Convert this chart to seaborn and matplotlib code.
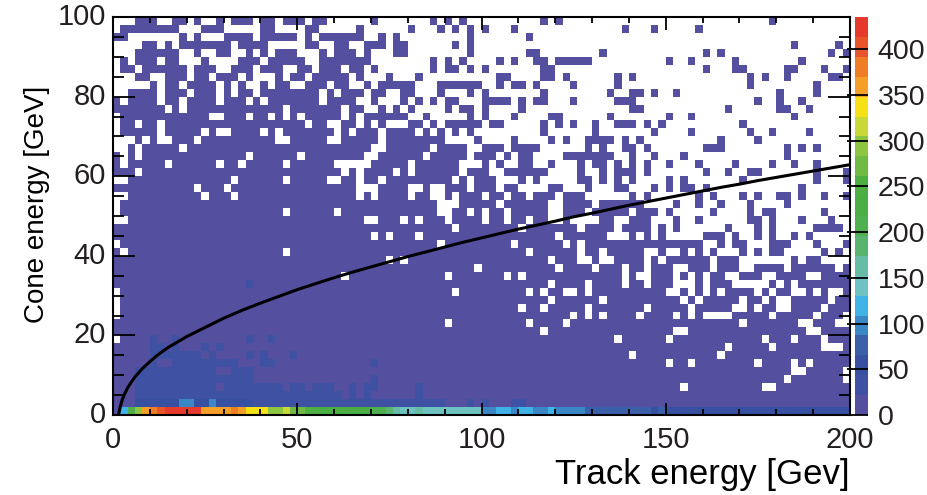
import numpy as np
import matplotlib
matplotlib.use("Agg")
import matplotlib.pyplot as plt
from matplotlib.colors import ListedColormap
from matplotlib.ticker import FixedLocator
import seaborn as sns

# histogram is 100 x 50 bins, rows go from the top (100 GeV) downwards
n_x = 100
n_y = 50
x_max = 200
y_max = 100

# rows 0-20
empty_top_left = [
    "0-2 6-7 10 12-13 15 19 22 26 29-32",
    "0 9-11 15-19 22-25 28-32",
    "2-8 10 12-14 19 25 27",
    "0-3 6 8 16 21-25 28-29 32",
    "0-2 9-10 12-13 16-17 19 21 25-27 29",
    "0 2 6 9-11 13-16 20 26-27",
    "0 3 10 14-15 19 23-24 27 31",
    "0-2 5-6 10 13 17 19-21 23 26 32",
    "0-4 6 9 14 16 18-19 21 24-25 29 32",
    "0-1 6 10 14 16 19 28 30",
    "1 6 9 14 18 20 28",
    "7 9 23 31",
    "0 13-14 18 21 23 25 31",
    "0 3 6 26 29-30",
    "0 6 12 14-15 20 22 30 32",
    "0-2 4 6-7 11 22-23 29-30",
    "0-1 3 9",
    "1 3 18 25",
    "1 7 14 17 23 30-32",
    "3 31",
    "0-1 16 23 29-30",
]
filled_top_mid = [
    "35 43 45 47 58 60",
    "33 40 44 46 48 50 54",
    "33 36 38 48 56",
    "34-36 38-39 46 48",
    "34 38-39 48 56-57 66",
    "33-34 43 45 47 52 54 57-58 60-64",
    "33 35 43 45-46 48 50 58-59",
    "33 37 41 52-53 58-59 61",
    "34 36-40 44-49 52 54-55 57 62",
    "33 35-36 39-40 44 48 50 58",
    "35 39 41 43 45-46 50-53 55 57-58 62",
    "33 36 38 40 45 47-48 50 55",
    "34-39 42 48 50 54 59-60",
    "34 36 40-41 43 45-49 51-52 58 60 62 65",
    "33-35 37-40 42 44 46 48 58 65",
    "33-35 37-44 49 54 59 61 64-66",
    "33-34 37-42 44-46 47 50-52 54-57 64 66",
    "33 36-41 43-46 47 49-51 53 55-56 61-63 64-66",
    "35-39 41-46 50 52 55-56 59 63 65-66",
    "34-37 39 41-46 48-50 53-58 63 66",
    "34-35 37-45 47 49-51 55 57 63-64 66",
]
filled_top_right = [
    "89",
    "69 73 79",
    "",
    "92 98",
    "80 82 97 99",
    "75 78 84 93",
    "80 84-85 91-92 96 99",
    "68 70 86 88 91 97-98",
    "68 86 95",
    "67 70-71 73 76 90 95",
    "68-70 87 90 93",
    "70-71 83 90-91 94",
    "67 75 78 92",
    "68-70 72 74 85",
    "73 78 86 89 94",
    "67 69 71 82 87",
    "69-70 72 80-82 91 93 95",
    "67 70 73 77 91",
    "68 70 72 75 79 84 89 92 95",
    "68-70 72 80 83 86-87 95 99",
    "68 70 75 77 85 95 99",
]

# rows 21-31
empty_middle = [
    "11 15 33-35 40-41 43-44 48 52 55-58 61-63 65",
    "0-1 12 16 33 35 40 43-44 46 50 53 56 60 64-65",
    "0 44-46 52 59-60 65",
    "0 23 30 44-45 48 50 53 59-60 64",
    "0-1 34-35 39 41 45 50 53 56 59-60 62-65",
    "46 55 63",
    "35 37 41 60",
    "0 44 54 61 63",
    "1 23 56 63",
    "37 39 59 63-64",
    "49 60 65",
]
filled_middle_right = [
    "68-69 73 75 77-78 80 93",
    "70 72 79 81 85 87 90-91 93 96 99",
    "66-71 76 79 82 86 91",
    "66-69 71-73 75 81 86 88-89 96",
    "66-67 70-72 76 79 86-87 89 93 97",
    "66-67 69-72 74 76 83 87 89 95-98",
    "66 70 72 74 80-82 84 87 89 92 94",
    "66-79 82 84-85 89-91 95 99",
    "67-71 74 77 79 81 85 87 89-90 96 98",
    "68-71 73 75-80 82-84 92 94-95",
    "66-68 70-71 73-75 78-80 82-84 87-90 92-97 99",
]

# rows 32-46
empty_low = [
    "31 45 53 55 69 71-72 76 78 80 83-84 88-89 94-95",
    "59 64 69 72 76-78 80 84-88 90 92",
    "0 46 56 58 61-62 64 75-76 78 80 82 87 89 92-93 95 97-98",
    "0 59 66 77 79 85 88 90-91 97",
    "0 55 58 64 72 78 84-85 87 90-91 96",
    "0 62 64 66 71 76 78 80-83 89 95 99",
    "45 56 61 85 93-94 98-99",
    "58 76-77 94-95",
    "0 68 75 88 92 96",
    "83 89 96-98",
    "70 82",
    "75 78 87 92 94",
    "92-93 99",
    "91 99",
    "77 88-89",
]

# slightly higher bins (second colour band), as row -> columns
raised_rows = [33, 40, 41, 42, 43, 44, 45, 46, 47]
raised_cols = [
    "18",
    "5 8 18 21",
    "5-6 8 12 14",
    "5-8 9-11 13 18 20 24",
    "5 8-16 20-21 35",
    "3-13 16-18",
    "3-14 15-18 35",
    "3-13 15-22 24-25 27-29 32 34 35 41",
    "3-30 32 34 41",
]

row_48 = [
    8, 8, 8, 50, 50, 55, 50, 50, 50, 105, 105, 55, 55, 105, 55, 50, 45, 45, 55, 35,
    30, 32, 30, 30, 32, 30, 30, 30, 32, 30, 30, 30, 32, 30, 30, 30, 30, 32, 30, 30,
    30, 30, 30, 30, 30, 8, 8, 8, 30, 8, 30, 8, 8, 8, 30, 30, 8, 8, 8, 8,
    8, 8, 8, 8, 8, 8, 8, 8, 8, 8, 8, 8, 8, 8, 8, 8, 8, 8, 8, 8,
    8, 8, 8, 8, 8, 8, 8, 8, 8, 8, 8, 8, 8, 8, 8, 8, 8, 8, 8, 8,
]
row_49 = [
    15, 118, 200, 290, 355, 380, 410, 425, 425, 425, 425, 425, 360, 365, 360, 355, 375, 360, 335, 335,
    340, 300, 295, 320, 280, 275, 250, 240, 235, 235, 240, 235, 230, 225, 220, 205, 200, 180, 160, 150,
    150, 165, 150, 150, 140, 145, 145, 145, 140, 135, 105, 100, 120, 125, 105, 125, 125, 100, 95, 120,
    100, 100, 105, 100, 80, 85, 70, 70, 75, 70, 70, 70, 75, 65, 70, 55, 50, 50, 52, 50,
    50, 48, 50, 48, 50, 46, 48, 46, 48, 46, 46, 45, 46, 45, 46, 45, 45, 46, 45, 45,
]

# black line
line_track = [1.5, 2, 2.5, 3, 4, 5, 6, 8, 10, 12, 15, 20, 25, 30, 35, 40, 45, 50, 55, 60, 65, 70, 75,
              80, 85, 90, 95, 100, 105, 110, 115, 120, 125, 130, 135, 140, 145, 150, 155, 160,
              165, 170, 175, 180, 185, 190, 195, 200]
line_cone = [0, 2.2, 3.8, 5, 6.9, 8.3, 9.6, 11.7, 13.4, 15, 17, 19.7, 22, 24.3, 26.3, 28.1, 29.8, 31.5,
             33, 34.5, 35.9, 37.2, 38.5, 39.8, 41, 42.2, 43.4, 44.5, 45.6, 46.7, 47.7, 48.7, 49.8,
             50.7, 51.7, 52.7, 53.6, 54.5, 55.4, 56.3, 57.2, 58, 58.9, 59.7, 60.5, 61.3, 62.1, 62.9]

x_ticks = [0, 50, 100, 150, 200]
y_ticks = [0, 20, 40, 60, 80, 100]
z_ticks = [0, 50, 100, 150, 200, 250, 300, 350, 400]
z_max = 435

band_colors = [
    "#554f9f", "#3f51a3", "#3850a2", "#3b60aa", "#3b87c5",
    "#3fb2e6", "#6ec2c2", "#65bda5", "#58b46f", "#4fb04f",
    "#4bae45", "#4dae42", "#6fb944", "#8dc540", "#c8d836",
    "#f6e016", "#f4a028", "#ef7d26", "#e9552b", "#e63a2c",
]


def cols(text):
    out = []
    for part in text.split():
        if "-" in part:
            a, b = part.split("-")
            out.extend(range(int(a), int(b) + 1))
        else:
            out.append(int(part))
    return out


def x_pos(v):
    return np.asarray(v, dtype=float) / x_max * n_x


def y_pos(v):
    return (y_max - np.asarray(v, dtype=float)) / y_max * n_y


counts = np.full((n_y, n_x), 8.0)
occupied = np.ones((n_y, n_x), dtype=bool)

for r in range(21):
    occupied[r, 33:] = False
    occupied[r, cols(filled_top_mid[r])] = True
    occupied[r, cols(filled_top_right[r])] = True
    occupied[r, cols(empty_top_left[r])] = False
for i in range(11):
    r = 21 + i
    occupied[r, 66:] = False
    occupied[r, cols(filled_middle_right[i])] = True
    occupied[r, cols(empty_middle[i])] = False
for i in range(len(empty_low)):
    occupied[32 + i, cols(empty_low[i])] = False

for r, c in zip(raised_rows, raised_cols):
    counts[r, cols(c)] = 30
counts[48] = row_48
counts[49] = row_49

plt.rcParams["font.family"] = ["Liberation Sans", "DejaVu Sans"]
plt.rcParams["text.color"] = "#231f20"

W, H = 928, 495
fig = plt.figure(figsize=(W / 100, H / 100), dpi=100)
ax = fig.add_axes([113 / W, 1 - 415 / H, (850 - 113) / W, (415 - 17) / H])
cax = fig.add_axes([855 / W, 1 - 415 / H, 13 / W, (415 - 17) / H])

sns.heatmap(counts, mask=~occupied, cmap=ListedColormap(band_colors), vmin=0, vmax=z_max,
            ax=ax, cbar_ax=cax, cbar_kws={"ticks": z_ticks})

sns.lineplot(x=x_pos(line_track), y=y_pos(line_cone), color="black", linewidth=2.2, ax=ax,
             sort=False, estimator=None)

ax.set_xticks(x_pos(x_ticks), [str(v) for v in x_ticks], rotation=0)
ax.set_yticks(y_pos(y_ticks), [str(v) for v in y_ticks], rotation=0)
ax.xaxis.set_minor_locator(FixedLocator(x_pos(np.arange(0, 201, 10))))
ax.yaxis.set_minor_locator(FixedLocator(y_pos(np.arange(0, 101, 5))))
ax.tick_params(axis="x", which="major", direction="in", top=True, bottom=True, length=9, width=1.3,
               labelsize=21, pad=8, labelcolor="#231f20")
ax.tick_params(axis="x", which="minor", direction="in", top=True, bottom=True, length=4.5, width=1.3)
ax.tick_params(axis="y", which="major", direction="in", left=True, right=True, length=16, width=1.3,
               labelsize=21, pad=5, labelcolor="#231f20")
ax.tick_params(axis="y", which="minor", direction="in", left=True, right=True, length=8, width=1.3)
for s in ax.spines.values():
    s.set_visible(True)
    s.set_linewidth(1.5)
    s.set_color("black")

ax.set_xlabel("Track energy [Gev]", fontsize=25, loc="right", labelpad=3)
ax.set_ylabel("Cone energy [GeV]", fontsize=20)
ax.yaxis.set_label_coords(-0.086, 0.53)

cax.tick_params(direction="in", length=15, width=1.3, labelsize=20.5, pad=7, labelcolor="#231f20")
ax.collections[0].colorbar.outline.set_visible(False)

fig.savefig("out.png", dpi=100)
